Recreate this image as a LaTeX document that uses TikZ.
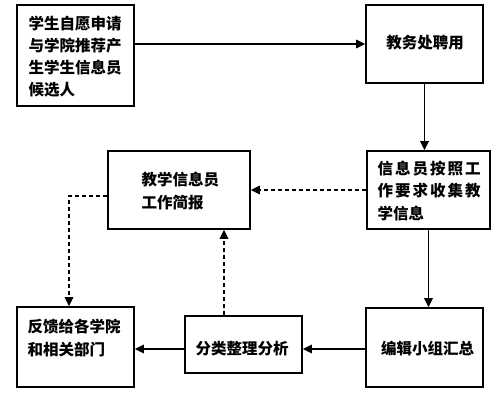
\documentclass[tikz,border=0pt]{standalone}
\usepackage{fontspec}
\setmainfont{Noto Sans CJK SC}
\usetikzlibrary{arrows.meta}
\tikzset{
  box/.style={draw, line width=1.6pt, inner sep=0pt, fill=white},
  lbl/.style={inner sep=0pt, align=left, font=\bfseries\fontsize{15.5}{22.2}\selectfont},
  arr/.style={line width=1.6pt, -{Triangle[length=9pt,width=8.5pt]}},
  darr/.style={line width=1.3pt, dash pattern=on 4pt off 3pt, -{Triangle[length=9pt,width=8.5pt]}}
}
\newcommand{\spreadline}[1]{\makebox[#1pt][s]}
\begin{document}
\begin{tikzpicture}[x=1pt,y=-1pt]
\useasboundingbox (0,0) rectangle (500,400);
% boxes
\node[box, minimum width=117pt, minimum height=101pt] (A) at (75.5,55.5) {};
\node[box, minimum width=117pt, minimum height=78pt] (B) at (424.5,44) {};
\node[box, minimum width=123pt, minimum height=78pt] (C) at (428.5,190) {};
\node[box, minimum width=142pt, minimum height=78pt] (D) at (179,190) {};
\node[box, minimum width=117pt, minimum height=80pt] (E) at (75.5,347) {};
\node[box, minimum width=117pt, minimum height=57pt] (F) at (243.5,344.5) {};
\node[box, minimum width=117pt, minimum height=79pt] (G) at (424.5,347.5) {};
% texts
\node[lbl, anchor=west] (At) at (28.5,56.5) {学生自愿申请\\与学院推荐产\\生学生信息员\\候选人};
\node[lbl] (Bt) at (425,43) {教务处聘用};
\node[lbl, anchor=west] (Ct) at (377.5,191) {\spreadline{103}{信\hfill 息\hfill 员\hfill 按\hfill 照\hfill 工}\\\spreadline{103}{作\hfill 要\hfill 求\hfill 收\hfill 集\hfill 教}\\学信息};
\node[lbl, anchor=west] (Dt) at (141.5,191) {教学信息员\\工作简报};
\node[lbl, anchor=west] (Et) at (27.5,338) {反馈给各学院\\和相关部门};
\node[lbl] (Ft) at (242,349) {分类整理分析};
\node[lbl] (Gt) at (427.5,349) {编辑小组汇总};
% connectors
\draw[arr] (A.east |- B.west) -- (B.west);
\draw[arr] (B.south) -- (B.south |- C.north);
\draw[darr] (C.west) -- (C.west -| D.east);
\draw[darr] ([yshift=-6pt]D.west) -| ([xshift=-6.5pt]E.north);
\draw[darr] ([xshift=-19.5pt]F.north) -- ([xshift=-19.5pt]F.north |- D.south);
\draw[arr] (C.south) -- (C.south |- G.north);
\draw[arr] ([yshift=-1.5pt]G.west) -- ([yshift=-1.5pt]G.west -| F.east);
\draw[arr] ([yshift=-4.5pt]F.west) -- ([yshift=-4.5pt]F.west -| E.east);
\end{tikzpicture}
\end{document}
